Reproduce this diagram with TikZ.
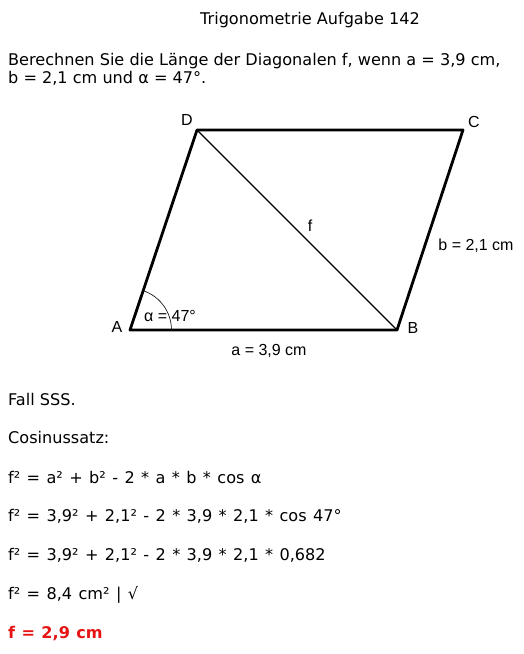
\documentclass[tikz,border=0pt]{standalone}
\usepackage{fontspec}
\usetikzlibrary{calc}
\setmainfont{DejaVu Sans}
\newfontfamily\figfont{Liberation Sans}
\definecolor{resred}{RGB}{230,20,20}
\newcommand\mywidesp{\spaceskip=6.4pt\relax}
\begin{document}
\begin{tikzpicture}[x=1pt,y=-1pt,
  txt/.style={anchor=base west,inner sep=0pt,font=\fontsize{16.1}{18}\selectfont},
  eq/.style={anchor=base west,inner sep=0pt,font=\fontsize{16.1}{18}\selectfont\mywidesp},
  lbl/.style={inner sep=0pt,font=\figfont\fontsize{16}{18}\selectfont},
  side/.style={line width=2.8pt,line cap=round,line join=round},
  diag/.style={line width=1.2pt}]
\useasboundingbox (0,0) rectangle (523,654);
% text
\node[anchor=base,inner sep=0pt,font=\fontsize{16.1}{18}\selectfont] (title) at (310,24) {Trigonometrie Aufgabe 142};
\node[txt] (t1) at (8,65) {Berechnen Sie die Länge der Diagonalen f, wenn a = 3,9 cm,};
\node[txt] (t2) at (8,83) {b = 2,1 cm und α = 47°.};
% figure
\coordinate (A) at (130,330);
\coordinate (B) at (397,330);
\coordinate (C) at (463,130);
\coordinate (D) at (197,130);
\draw[diag] (D) -- (B);
\draw[side] (A) -- (B) -- (C) -- (D) -- cycle;
\draw[line width=0.6pt] ($(A)+(41.5,0)$) arc[start angle=0,end angle=-71.4,radius=41.5];
\node[lbl] (lA) at (117,327) {A};
\node[lbl] (lB) at (413,328) {B};
\node[lbl] (lC) at (474,122) {C};
\node[lbl] (lD) at (187,120) {D};
\node[lbl] (lf) at (310,226) {f};
\node[lbl] (lb) at (476,246) {b = 2,1 cm};
\node[lbl] (la) at (269,351) {a = 3,9 cm};
\node[lbl] (lal) at (170,316) {α = 47°};
% lower text
\node[txt] (t3) at (8,405) {Fall SSS.};
\node[txt] (t4) at (8,443) {Cosinussatz:};
\node[eq] (t5) at (8,483) {f² = a² + b² - 2 * a * b * cos α};
\node[eq] (t6) at (8,521) {f² = 3,9² + 2,1² - 2 * 3,9 * 2,1 * cos 47°};
\node[eq] (t7) at (8,560) {f² = 3,9² + 2,1² - 2 * 3,9 * 2,1 * 0,682};
\node[eq] (t8) at (8,599) {f² = 8,4 cm² | √};
\node[eq,font=\bfseries\fontsize{16.1}{18}\selectfont\mywidesp,text=resred] (t9) at (8,638) {f = 2,9 cm};
\end{tikzpicture}
\end{document}
